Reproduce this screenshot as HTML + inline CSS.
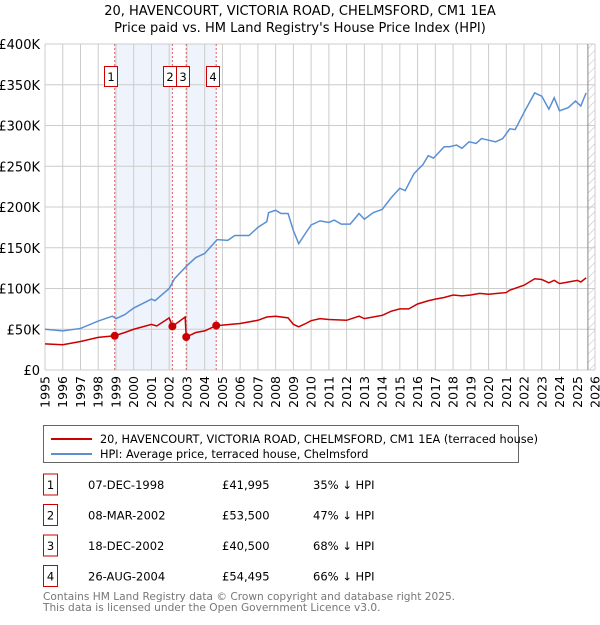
<!DOCTYPE html>
<html><head><meta charset="utf-8"><style>
body{margin:0;background:#fff;font-family:"Liberation Sans","DejaVu Sans",sans-serif;}
svg text{font-family:"DejaVu Sans","Liberation Sans",sans-serif;}
</style></head><body>
<svg id="c" width="600" height="620" xmlns="http://www.w3.org/2000/svg">
<defs><pattern id="hatch" width="6" height="6" patternUnits="userSpaceOnUse" patternTransform="rotate(45)"><line x1="0" y1="0" x2="0" y2="6" stroke="#bbb" stroke-width="1"/></pattern></defs>
<text x="300" y="15" text-anchor="middle" font-size="13" fill="#000">20, HAVENCOURT, VICTORIA ROAD, CHELMSFORD, CM1 1EA</text>
<text x="300" y="32" text-anchor="middle" font-size="13" fill="#000">Price paid vs. HM Land Registry's House Price Index (HPI)</text>
<g id="plot"></g>
<g>
<rect x="43.5" y="425.5" width="475" height="37" fill="#fff" stroke="#666"/>
<line x1="51" y1="439" x2="92" y2="439" stroke="#cc0000" stroke-width="2"/>
<text x="100" y="443" font-size="11.3">20, HAVENCOURT, VICTORIA ROAD, CHELMSFORD, CM1 1EA (terraced house)</text>
<line x1="51" y1="454" x2="92" y2="454" stroke="#5b8fd4" stroke-width="2"/>
<text x="100" y="458" font-size="11.3">HPI: Average price, terraced house, Chelmsford</text>
</g>
<g id="table"></g>
<text x="43" y="600" font-size="10.6" fill="#777">Contains HM Land Registry data © Crown copyright and database right 2025.</text>
<text x="43" y="611" font-size="10.6" fill="#777">This data is licensed under the Open Government Licence v3.0.</text>
</svg>
<script>
const yTicks=[0,50000,100000,150000,200000,250000,300000,350000,400000];
const yTickLabels=["£0","£50K","£100K","£150K","£200K","£250K","£300K","£350K","£400K"];
const xYears=[1995,1996,1997,1998,1999,2000,2001,2002,2003,2004,2005,2006,2007,2008,2009,2010,2011,2012,2013,2014,2015,2016,2017,2018,2019,2020,2021,2022,2023,2024,2025,2026];
const hpiT=[1995,1996,1997,1998,1998.8,1999,1999.5,2000,2001,2001.2,2002,2002.3,2003,2003.5,2004,2004.7,2005.3,2005.7,2006.5,2007,2007.5,2007.6,2008,2008.3,2008.7,2009,2009.3,2009.6,2010,2010.5,2011,2011.3,2011.7,2012.2,2012.7,2013,2013.5,2014,2014.5,2015,2015.3,2015.8,2016.3,2016.6,2016.9,2017.5,2017.8,2018.2,2018.5,2018.9,2019.3,2019.6,2020,2020.4,2020.8,2021.2,2021.5,2022,2022.6,2023,2023.4,2023.7,2024,2024.5,2024.9,2025.2,2025.5];
const hpiV=[50000,48000,51000,60000,66000,63000,68000,76000,87000,85000,100000,112000,128000,138000,143000,160000,159000,165000,165000,175000,182000,193000,196000,192000,192000,171000,155000,165000,178000,183000,181000,184000,179000,179000,192000,185000,193000,197000,211000,223000,220000,241000,252000,263000,260000,274000,274000,276000,272000,280000,278000,284000,282000,280000,284000,296000,295000,316000,340000,336000,320000,334000,318000,322000,330000,324000,340000];
const redT=[1995,1996,1997,1998,1998.93,1999.5,2000,2001,2001.3,2002,2002.18,2002.9,2002.96,2003.5,2004,2004.65,2005,2006,2007,2007.5,2008,2008.7,2009,2009.3,2009.6,2010,2010.5,2011,2012,2012.7,2013,2014,2014.5,2015,2015.5,2016,2016.6,2017,2017.5,2018,2018.5,2019,2019.5,2020,2020.5,2021,2021.2,2022,2022.6,2023,2023.4,2023.7,2024,2024.5,2025,2025.2,2025.5];
const redV=[32000,31000,35000,40000,41995,46000,50000,56000,54000,64000,53500,65000,40500,46000,48000,54495,55000,57000,61000,65000,66000,64000,56000,53000,56000,60500,63000,62000,61000,66000,63000,67000,72000,75000,75000,81000,85000,87000,89000,92000,91000,92000,94000,93000,94000,95000,98000,104000,112000,111000,107000,110000,106000,108000,110000,108000,113000];
const saleT=[1998.93,2002.18,2002.96,2004.65];
const saleV=[41995,53500,40500,54495];
const saleDates=["07-DEC-1998","08-MAR-2002","18-DEC-2002","26-AUG-2004"];
const salePrices=["£41,995","£53,500","£40,500","£54,495"];
const salePct=["35% ↓ HPI","47% ↓ HPI","68% ↓ HPI","66% ↓ HPI"];
const dataEnd=2025.6;

const NS="http://www.w3.org/2000/svg";
const X0=45,X1=595,Y0=370,Y1=44;
const xs=t=>X0+(t-1995)/(2026-1995)*(X1-X0);
const ys=v=>Y0-v/400000*(Y0-Y1);
const plot=document.getElementById('plot');
function mk(tag,attrs,parent){const e=document.createElementNS(NS,tag);for(const k in attrs)e.setAttribute(k,attrs[k]);(parent||plot).appendChild(e);return e;}
for(const [a,b] of [[0,1],[2,3]]){
 const r=mk('rect',{x:xs(saleT[a]),y:Y1,width:xs(saleT[b])-xs(saleT[a]),height:Y0-Y1,fill:'#eef3fc'});
 
 
}
const h=mk('rect',{x:xs(dataEnd),y:Y1,width:X1-xs(dataEnd),height:Y0-Y1,fill:'url(#hatch)'});


yTicks.forEach((v,i)=>{
 const l=mk('line',{x1:X0,x2:X1,y1:ys(v),y2:ys(v),stroke:'#ccc','stroke-width':1});
 
 
 const t=mk('text',{x:40,y:ys(v)+5,'text-anchor':'end','font-size':13});
 t.textContent=yTickLabels[i];
 
 
});
xYears.forEach(yr=>{
 const l=mk('line',{x1:xs(yr),x2:xs(yr),y1:Y1,y2:Y0,stroke:'#ccc','stroke-width':1});
 
 
 const t=mk('text',{x:0,y:0,'text-anchor':'end','font-size':12.5,transform:`translate(${xs(yr)+4.5},376) rotate(-90)`});
 t.textContent=yr;
 
 
});
const el=mk('line',{x1:xs(dataEnd),x2:xs(dataEnd),y1:Y1,y2:Y0,stroke:'#888','stroke-width':1});


saleT.forEach(t=>{
 const l=mk('line',{x1:xs(t),x2:xs(t),y1:Y1,y2:Y0,stroke:'#e06060','stroke-width':1,'stroke-dasharray':'2,2'});
 
 
});
const hp=mk('polyline',{points:hpiT.map((t,i)=>xs(t)+','+ys(hpiV[i])).join(' '),fill:'none',stroke:'#5b8fd4','stroke-width':1.5});


const rp=mk('polyline',{points:redT.map((t,i)=>xs(t)+','+ys(redV[i])).join(' '),fill:'none',stroke:'#cc0000','stroke-width':1.5});


const boxOffset=[-11,-9,-10,-10];
saleT.forEach((t,i)=>{
 const c=mk('circle',{cx:xs(t),cy:ys(saleV[i]),r:4,fill:'#cc0000'});
 
 
 const bx=Math.round(xs(t)+boxOffset[i])+0.5;
 const r=mk('rect',{x:bx,y:66.5,width:13,height:20,fill:'#fff',stroke:'#cc0000'});
 
 
 const tx=mk('text',{x:bx+6.5,y:81,'text-anchor':'middle','font-size':11.5});
 tx.textContent=String(i+1);
 
 
});
const tb=document.getElementById('table');
saleDates.forEach((d,i)=>{
 const y=484+i*30.5;
 const r=mk('rect',{x:43.5,y:y-10,width:14,height:21,fill:'#fff',stroke:'#cc0000'},tb);
 
 
 const n=mk('text',{x:50.5,y:y+5,'text-anchor':'middle','font-size':11.5},tb);n.textContent=String(i+1);
 
 
 const a=mk('text',{x:88,y:y+5,'font-size':11.5},tb);a.textContent=d;
 
 
 const b=mk('text',{x:222,y:y+5,'font-size':11.5},tb);b.textContent=salePrices[i];
 
 
 const c=mk('text',{x:313,y:y+5,'font-size':11.5},tb);c.textContent=salePct[i];
 
 
});
</script>
</body></html>
